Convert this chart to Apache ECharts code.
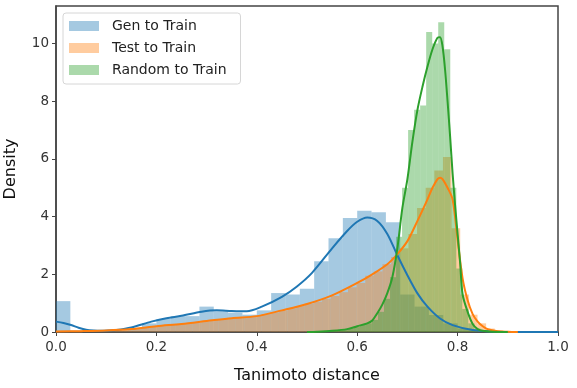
<!DOCTYPE html>
<html>
<head>
<meta charset="utf-8">
<script src="https://cdn.jsdelivr.net/npm/echarts@6/dist/echarts.min.js"></script>
<style>
  html, body { margin: 0; padding: 0; background: #fff; }
  #chart { width: 577px; height: 388px; }
</style>
</head>
<body>
<div id="chart"></div>
<script>
// histogram bins: first edge, bin width, densities
var genStart = 0, genWidth = 1 / 35;
var genHist = [1.07, 0.05, 0.03, 0.02, 0.06, 0.12, 0.3, 0.45, 0.55, 0.55, 0.88, 0.72, 0.67, 0.6, 0.75,
	1.35, 1.3, 1.5, 2.45, 3.25, 3.95, 4.2, 4.15, 3.8, 1.3, 0.88, 0.59, 0.3, 0.12, 0.05, 0.03, 0.02, 0.01, 0, 0];

var testStart = 0.014, testWidth = 0.0172;
var testHist = [0.03, 0.03, 0.04, 0.04, 0.05, 0.06, 0.08, 0.1, 0.14, 0.17, 0.2, 0.22, 0.25, 0.28, 0.3,
	0.33, 0.37, 0.42, 0.45, 0.47, 0.5, 0.52, 0.55, 0.62, 0.68, 0.74, 0.82, 0.9, 0.98, 1.05, 1.15, 1.25,
	1.38, 1.55, 1.7, 1.95, 2.1, 2.35, 2.6, 2.9, 3.4, 4.3, 5.0, 5.6, 6.07, 3.6, 1.3, 0.6, 0.3, 0.12, 0.05, 0.02];

var randStart = 0.5094, randWidth = 0.012;
var randHist = [0.02, 0.03, 0.04, 0.05, 0.07, 0.09, 0.12, 0.17, 0.24, 0.3, 0.42, 0.7, 1.15, 1.9, 3.3,
	5.0, 7.0, 7.7, 7.85, 10.4, 10.0, 10.74, 9.8, 5.0, 2.2, 0.8, 0.3, 0.12, 0.04];

// kde curves
var genKdeX = [0, 0.015, 0.03, 0.045, 0.06, 0.075, 0.09, 0.105, 0.12, 0.15, 0.19, 0.22, 0.25, 0.29, 0.32,
	0.35, 0.38, 0.41, 0.45, 0.48, 0.51, 0.55, 0.58, 0.6, 0.62, 0.64, 0.66, 0.68, 0.7, 0.72, 0.74, 0.765,
	0.79, 0.83, 0.88, 0.95, 1.0];
var genKdeY = [0.36, 0.31, 0.24, 0.15, 0.08, 0.05, 0.04, 0.05, 0.07, 0.16, 0.36, 0.48, 0.56, 0.7, 0.75,
	0.73, 0.72, 0.88, 1.22, 1.58, 2.05, 2.9, 3.5, 3.82, 3.97, 3.85, 3.4, 2.66, 1.97, 1.34, 0.88, 0.47,
	0.24, 0.07, 0.01, 0, 0];

var testKdeX = [0, 0.05, 0.1, 0.15, 0.2, 0.25, 0.3, 0.35, 0.4, 0.45, 0.5, 0.55, 0.6, 0.63, 0.66, 0.68,
	0.7, 0.72, 0.74, 0.75, 0.76, 0.765, 0.77, 0.78, 0.79, 0.8, 0.81, 0.82, 0.83, 0.84, 0.85, 0.86, 0.88,
	0.9, 0.92];
var testKdeY = [0.02, 0.03, 0.05, 0.1, 0.2, 0.28, 0.38, 0.48, 0.55, 0.75, 0.97, 1.27, 1.7, 2.0, 2.35, 2.7,
	3.15, 3.85, 4.6, 5.0, 5.3, 5.35, 5.3, 5.0, 4.6, 3.2, 1.85, 1.1, 0.62, 0.36, 0.2, 0.1, 0.03, 0.01, 0];

var randKdeX = [0.5, 0.52, 0.55, 0.58, 0.6, 0.62, 0.63, 0.64, 0.65, 0.66, 0.67, 0.68, 0.69, 0.7, 0.71,
	0.72, 0.73, 0.74, 0.75, 0.76, 0.765, 0.77, 0.775, 0.78, 0.785, 0.79, 0.795, 0.8, 0.805, 0.81, 0.82,
	0.83, 0.84, 0.85, 0.87, 0.9];
var randKdeY = [0, 0.01, 0.04, 0.1, 0.2, 0.3, 0.4, 0.65, 0.95, 1.35, 1.9, 2.9, 4.3, 5.3, 6.6,
	7.7, 8.5, 9.2, 9.8, 10.2, 10.22, 9.9, 9.1, 8.0, 6.8, 5.5, 4.4, 3.4, 2.4, 1.3, 0.7,
	0.28, 0.1, 0.04, 0.01, 0];

var names = ['Gen to Train', 'Test to Train', 'Random to Train'];
var colors = ['#1f77b4', '#ff7f0e', '#2ca02c'];
var fills = ['rgba(31,119,180,0.4)', 'rgba(255,127,14,0.4)', 'rgba(44,160,44,0.4)'];

function binData(start, width, values) {
	return values.map(function (v, i) {
		return [start + i * width, v, start + (i + 1) * width];
	});
}

function renderBin(params, api) {
	var p0 = api.coord([api.value(0), api.value(1)]);
	var p1 = api.coord([api.value(2), 0]);
	return {
		type: 'rect',
		shape: { x: p0[0], y: p0[1], width: p1[0] - p0[0], height: p1[1] - p0[1] },
		style: { fill: api.visual('color') }
	};
}

function zip(xs, ys) {
	return xs.map(function (x, i) { return [x, ys[i]]; });
}

function histSeries(k, start, width, values) {
	return {
		name: names[k],
		type: 'custom',
		renderItem: renderBin,
		encode: { x: [0, 2], y: 1 },
		itemStyle: { color: fills[k] },
		data: binData(start, width, values)
	};
}

function kdeSeries(k, xs, ys) {
	return {
		name: names[k] + ' kde',
		type: 'line',
		data: zip(xs, ys),
		showSymbol: false,
		smooth: 0.3,
		lineStyle: { color: colors[k], width: 2 },
		itemStyle: { color: colors[k] }
	};
}

var chart = echarts.init(document.getElementById('chart'));

chart.setOption({
	animation: false,
	grid: {
		left: 56, right: 19, top: 6, bottom: 56,
		outerBoundsMode: 'none',
		show: true, borderColor: '#444', borderWidth: 1.5
	},
	legend: {
		orient: 'vertical',
		left: 63,
		top: 13,
		padding: [5, 14, 6, 6],
		itemWidth: 30,
		itemHeight: 10,
		itemGap: 6,
		icon: 'rect',
		backgroundColor: 'rgba(255,255,255,0.8)',
		borderColor: '#d6d6d6',
		borderWidth: 1,
		borderRadius: 3,
		textStyle: { fontFamily: 'DejaVu Sans', fontSize: 14, color: '#222', lineHeight: 16, padding: [0, 0, 0, 8] },
		data: names.map(function (n, k) { return { name: n, itemStyle: { color: fills[k] } }; })
	},
	xAxis: {
		type: 'value',
		min: 0,
		max: 1,
		interval: 0.2,
		name: 'Tanimoto distance',
		nameLocation: 'middle',
		nameGap: 36,
		nameTextStyle: { fontFamily: 'DejaVu Sans', fontSize: 16, color: '#111' },
		splitLine: { show: false },
		axisLine: { show: true, onZero: false, lineStyle: { color: '#444', width: 1.5 } },
		axisTick: { show: true, length: 4, lineStyle: { color: '#444' } },
		axisLabel: {
			fontFamily: 'DejaVu Sans', fontSize: 13.5, color: '#333', margin: 8,
			formatter: function (v) { return v.toFixed(1); }
		}
	},
	yAxis: {
		type: 'value',
		min: 0,
		max: 11.3,
		interval: 2,
		name: 'Density',
		nameLocation: 'middle',
		nameGap: 37,
		nameTextStyle: { fontFamily: 'DejaVu Sans', fontSize: 16, color: '#111' },
		splitLine: { show: false },
		axisLine: { show: true, lineStyle: { color: '#444', width: 1.5 } },
		axisTick: { show: true, length: 4, lineStyle: { color: '#444' } },
		axisLabel: {
			fontFamily: 'DejaVu Sans', fontSize: 13.5, color: '#333', margin: 7,
			showMaxLabel: false,
			formatter: function (v) { return v % 2 === 0 ? String(v) : ''; }
		}
	},
	series: [
		histSeries(0, genStart, genWidth, genHist),
		kdeSeries(0, genKdeX, genKdeY),
		histSeries(1, testStart, testWidth, testHist),
		kdeSeries(1, testKdeX, testKdeY),
		histSeries(2, randStart, randWidth, randHist),
		kdeSeries(2, randKdeX, randKdeY)
	]
});
</script>
</body>
</html>
